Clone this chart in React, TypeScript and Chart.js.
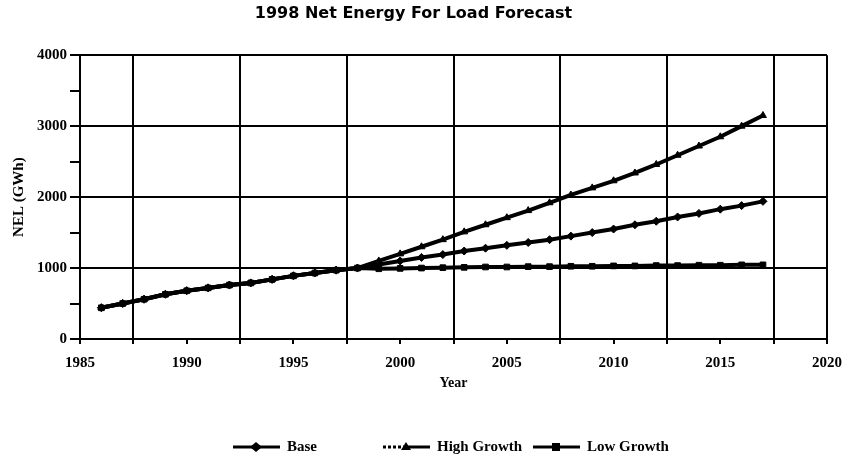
import React, { useEffect, useRef } from "react";
import { Chart, registerables } from "chart.js";

Chart.register(...registerables);

const TITLE = "1998 Net Energy For Load Forecast";
const X_TITLE = "Year";
const Y_TITLE = "NEL (GWh)";

const years = [
  1986, 1987, 1988, 1989, 1990, 1991, 1992, 1993, 1994, 1995, 1996, 1997,
  1998, 1999, 2000, 2001, 2002, 2003, 2004, 2005, 2006, 2007, 2008, 2009,
  2010, 2011, 2012, 2013, 2014, 2015, 2016, 2017,
];

const history = [440, 500, 560, 630, 680, 720, 760, 790, 840, 890, 930, 970];

const baseForecast = [
  1000, 1050, 1100, 1150, 1190, 1240, 1280, 1320, 1360, 1400, 1450, 1500,
  1550, 1610, 1660, 1720, 1770, 1830, 1880, 1940,
];
const highForecast = [
  1000, 1100, 1200, 1300, 1400, 1510, 1610, 1710, 1810, 1920, 2030, 2130,
  2230, 2340, 2460, 2590, 2720, 2850, 3000, 3150,
];
const lowForecast = [
  1000, 990, 995, 1000, 1005, 1010, 1015, 1015, 1020, 1020, 1025, 1025, 1030,
  1030, 1035, 1035, 1040, 1040, 1045, 1045,
];

const seriesNames = ["Base", "High Growth", "Low Growth"];
const seriesValues = [
  [...history, ...baseForecast],
  [...history, ...highForecast],
  [...history, ...lowForecast],
];
const seriesMarkers = ["rectRot", "triangle", "rect"];

const X_MIN = 1985;
const X_MAX = 2020;
const Y_MIN = 0;
const Y_MAX = 4000;

const SERIF = "'Liberation Serif', 'Times New Roman', serif";

const legendPlugin = {
  id: "customLegend",
  afterDraw(chart: any) {
    const ctx = chart.ctx;
    const y = 447;
    const items = [
      { x: 233, name: seriesNames[0], marker: seriesMarkers[0], dash: [] as number[] },
      { x: 383, name: seriesNames[1], marker: seriesMarkers[1], dash: [3, 2] },
      { x: 533, name: seriesNames[2], marker: seriesMarkers[2], dash: [] as number[] },
    ];
    ctx.save();
    ctx.fillStyle = "#000";
    ctx.strokeStyle = "#000";
    items.forEach((it) => {
      ctx.lineWidth = 3;
      ctx.setLineDash(it.dash);
      ctx.beginPath();
      ctx.moveTo(it.x, y);
      ctx.lineTo(it.x + 20, y);
      ctx.stroke();
      ctx.setLineDash([]);
      ctx.beginPath();
      ctx.moveTo(it.x + 20, y);
      ctx.lineTo(it.x + 47, y);
      ctx.stroke();
      const cx = it.x + 23;
      ctx.beginPath();
      if (it.marker === "rect") {
        ctx.rect(cx - 4, y - 4, 8, 8);
      } else if (it.marker === "triangle") {
        ctx.moveTo(cx, y - 5);
        ctx.lineTo(cx + 5, y + 3);
        ctx.lineTo(cx - 5, y + 3);
        ctx.closePath();
      } else {
        ctx.moveTo(cx, y - 5);
        ctx.lineTo(cx + 6, y);
        ctx.lineTo(cx, y + 5);
        ctx.lineTo(cx - 6, y);
        ctx.closePath();
      }
      ctx.fill();
      ctx.font = `bold 15px ${SERIF}`;
      ctx.textBaseline = "middle";
      ctx.textAlign = "left";
      ctx.fillText(it.name, it.x + 54, y);
    });
    ctx.restore();
  },
};

export default function App() {
  const canvasRef = useRef<HTMLCanvasElement | null>(null);

  useEffect(() => {
    document.body.style.margin = "0";
    const canvas = canvasRef.current;
    if (!canvas) return;
    const chart = new Chart(canvas, {
      type: "line",
      data: {
        datasets: seriesNames.map((name, si) => ({
          label: name,
          data: years.map((yr, i) => ({ x: yr, y: seriesValues[si][i] })),
          borderColor: "#000",
          backgroundColor: "#000",
          borderWidth: 4,
          pointStyle: seriesMarkers[si] as any,
          pointRadius: 4,
          pointBorderWidth: 1,
          fill: false,
          tension: 0,
        })),
      },
      options: {
        responsive: false,
        animation: false,
        layout: { padding: { left: 0, right: 16, top: 0, bottom: 0 } },
        plugins: {
          legend: { display: false },
          tooltip: { enabled: false },
          title: {
            display: true,
            text: TITLE,
            color: "#000",
            font: { family: "'DejaVu Sans', sans-serif", size: 16, weight: "bold" },
            padding: { top: 4, bottom: 32 },
          },
        },
        scales: {
          x: {
            type: "linear",
            min: X_MIN,
            max: X_MAX,
            afterFit: (scale: any) => {
              scale.height = 123;
              scale.paddingRight = 0;
              scale.paddingLeft = 0;
            },
            ticks: {
              stepSize: 2.5,
              autoSkip: false,
              maxRotation: 0,
              padding: 10,
              color: "#000",
              font: { family: SERIF, size: 15, weight: "bold" },
              callback: (v: any) => (Number(v) % 5 === 0 ? String(v) : ""),
            },
            grid: {
              color: (c: any) => {
                const v = c.tick ? c.tick.value : 0;
                if (v === X_MAX) return "#000";
                return v % 5 === 0 ? "rgba(0,0,0,0)" : "#000";
              },
              tickColor: "#000",
              lineWidth: 2,
              tickLength: 5,
            },
            border: { display: true, color: "#000", width: 2 },
            title: {
              display: true,
              text: X_TITLE,
              color: "#000",
              font: { family: SERIF, size: 14, weight: "bold" },
              padding: { top: 0, bottom: 70 },
            },
          },
          y: {
            type: "linear",
            min: Y_MIN,
            max: Y_MAX,
            afterFit: (scale: any) => {
              scale.width = 80;
              scale.paddingTop = 0;
              scale.paddingBottom = 0;
            },
            ticks: {
              stepSize: 500,
              autoSkip: false,
              padding: 3,
              color: "#000",
              font: { family: SERIF, size: 15, weight: "bold" },
              callback: (v: any) => (Number(v) % 1000 === 0 ? String(v) : ""),
            },
            grid: {
              color: (c: any) => {
                const v = c.tick ? c.tick.value : 0;
                return v % 1000 === 0 ? "#000" : "rgba(0,0,0,0)";
              },
              tickColor: "#000",
              lineWidth: 2,
              tickLength: 10,
            },
            border: { display: true, color: "#000", width: 2 },
            title: {
              display: true,
              text: Y_TITLE,
              color: "#000",
              font: { family: SERIF, size: 15, weight: "bold" },
              padding: { top: 10, bottom: 0 },
            },
          },
        },
      },
      plugins: [legendPlugin],
    });
    return () => chart.destroy();
  }, []);

  return (
    <div style={{ width: 843, height: 462, position: "relative" }}>
      <canvas ref={canvasRef} width={843} height={462} style={{ width: 843, height: 462 }} />
    </div>
  );
}
